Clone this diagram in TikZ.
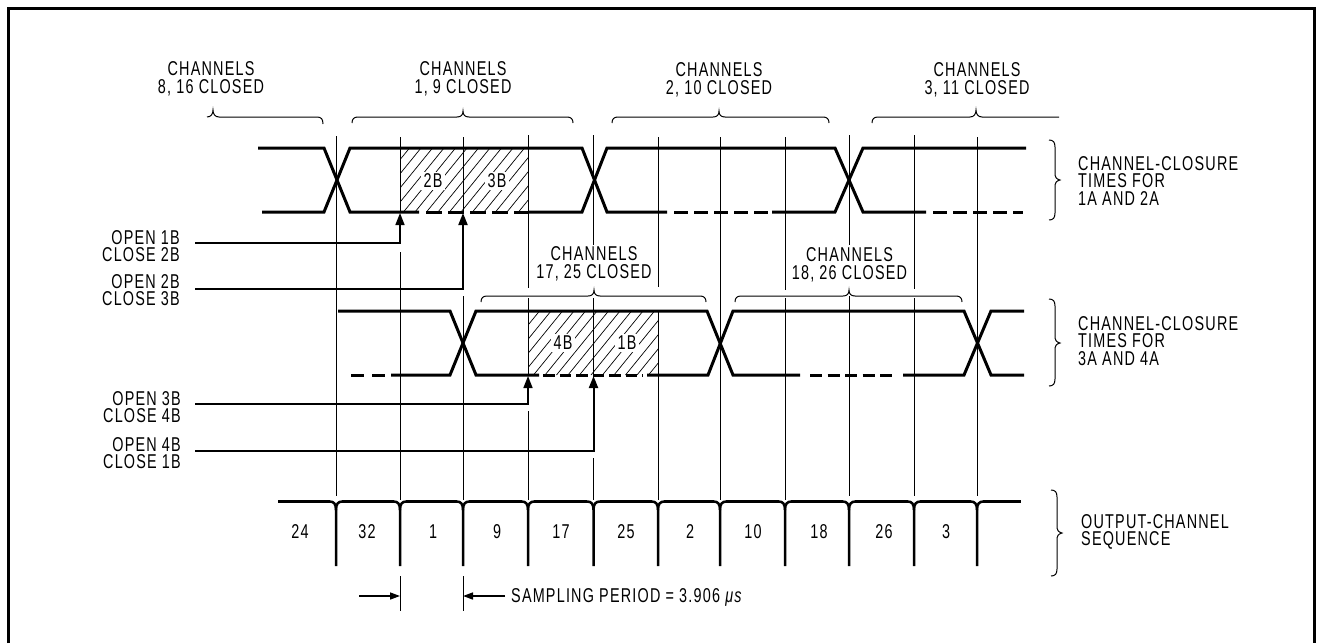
\documentclass[tikz,border=0pt]{standalone}
\usepackage{fontspec}
\usetikzlibrary{arrows.meta}
\newfontfamily\lblfont[FakeStretch=0.72,LetterSpace=6]{Liberation Sans}
\newcommand{\topbr}[4]{\draw[bracel] (#1,#4+6) .. controls (#1,#4+2) and (#1+2,#4) .. (#1+6,#4) -- (#2-6,#4) .. controls (#2-2,#4) and (#2,#4-2) .. (#2,#4-6) .. controls (#2,#4-2) and (#2+2,#4) .. (#2+6,#4) -- (#3-6,#4) .. controls (#3-2,#4) and (#3,#4+2) .. (#3,#4+6);}
\newcommand{\sidebr}[4]{\draw[bracel] (#1-6,#2) .. controls (#1-2,#2) and (#1,#2+2) .. (#1,#2+7) -- (#1,#3-7) .. controls (#1,#3-3) and (#1+1,#3-1) .. (#1+5,#3) .. controls (#1+1,#3+1) and (#1,#3+3) .. (#1,#3+7) -- (#1,#4-7) .. controls (#1,#4-2) and (#1-2,#4) .. (#1-6,#4);}
\tikzset{
  x=1pt,y=-1pt,
  sigl/.style={line width=3pt,line cap=butt},
  thinl/.style={line width=1pt},
  ticks/.style={line width=2.5pt},
  bracel/.style={line width=1pt},
  frameline/.style={line width=3pt,line join=miter},
  lead/.style={line width=1.5pt},
  hatchl/.style={line width=.7pt},
  txt/.style={font=\lblfont\fontsize{20}{17.5}\selectfont,inner sep=0pt,align=center},
  txtl/.style={txt,align=left,anchor=west},
  txtr/.style={txt,align=right,anchor=east},
  arr/.style={lead,-{Triangle[length=12pt,width=9pt]}},
  arrs/.style={lead,-{Triangle[length=10pt,width=7pt]}},
}
\begin{document}
\begin{tikzpicture}
\useasboundingbox (0,0) rectangle (1319,643);
\fill[white] (0,0) rectangle (1319,643);
\draw[frameline] (8,643) -- (8,8) -- (1314,8) -- (1314,643);
% hatching
\begin{scope}
\clip (400,148) rectangle (528,212);
\foreach \x in {300,311.5,...,540} \draw[hatchl] (\x,212) -- (\x+52,148);
\end{scope}
\begin{scope}
\clip (528,311) rectangle (658,375);
\foreach \x in {430,441.5,...,670} \draw[hatchl] (\x,375) -- (\x+52,311);
\end{scope}
\node[txt,fill=white,inner xsep=3pt,inner ysep=2pt] (h2b) at (433,181) {2B};
\node[txt,fill=white,inner xsep=3pt,inner ysep=2pt] (h3b) at (497,181) {3B};
\node[txt,fill=white,inner xsep=3pt,inner ysep=2pt] (h4b) at (563,343) {4B};
\node[txt,fill=white,inner xsep=3pt,inner ysep=2pt] (h1b) at (627,343) {1B};
% vertical time lines
\draw[thinl] (336,136) -- (336,496);
\draw[thinl] (400,137) -- (400,212) (400,252) -- (400,500);
\draw[thinl] (463,137) -- (463,212) (463,296) -- (463,500);
\draw[thinl] (528,135) -- (528,288) (528,298) -- (528,375) (528,411) -- (528,500);
\draw[thinl] (593.5,135) -- (593.5,245) (593.5,298) -- (593.5,376) (593.5,458) -- (593.5,500);
\draw[thinl] (658,137) -- (658,287) (658,310) -- (658,500);
\draw[thinl] (720,137) -- (720,500);
\draw[thinl] (785,137) -- (785,290) (785,298) -- (785,500);
\draw[thinl] (849,135) -- (849,245) (849,296) -- (849,496);
\draw[thinl] (914,135) -- (914,289) (914,298) -- (914,496);
\draw[thinl] (977,137) -- (977,496);
% channel closure, row 1
\draw[sigl] (258,148) -- (324,148) -- (350,212) -- (419,212);
\draw[sigl] (262,212) -- (324,212) -- (350,148) -- (582,148) -- (607,212) -- (667,212);
\draw[sigl] (528,212) -- (582,212) -- (607,148) -- (835,148) -- (863,212) -- (926,212);
\draw[sigl] (772,212) -- (835,212) -- (863,148) -- (1026,148);
\draw[sigl,dash pattern=on 16pt off 6pt] (426,212) -- (528,212);
\draw[sigl,dash pattern=on 14pt off 6pt] (674,212) -- (772,212);
\draw[sigl,dash pattern=on 14pt off 6pt] (933,212) -- (1023,212);
% channel closure, row 2
\draw[sigl] (338,311) -- (450,311) -- (476,375) -- (539,375);
\draw[sigl] (391,375) -- (450,375) -- (476,311) -- (707,311) -- (733,375) -- (800,375);
\draw[sigl] (647,375) -- (708,375) -- (733,311) -- (964,311) -- (991,375) -- (1024,375);
\draw[sigl] (903,375) -- (964,375) -- (991,311) -- (1024,311);
\draw[sigl,dash pattern=on 13pt off 8pt] (351,375) -- (385,375);
\draw[sigl,dash pattern=on 11.5pt off 5pt] (543,375) -- (643,375);
\draw[sigl,dash pattern=on 12pt off 5.5pt] (810,375) -- (893,375);
% output sequence
\draw[ticks] (278,501.5) -- (330,501.5);
\foreach \a/\b in {342/394,406/457,469/522,534/587,600/652,664/714,726/779,791/843,855/908,920/971,983/1021}
  \draw[ticks] (\a,501.5) -- (\b,501.5);
\foreach \x in {336,400,463,528,593.5,658,720,785,849,914,977}{
  \draw[ticks] (\x-6.5,501.5) .. controls (\x-2,501.5) and (\x,504) .. (\x,510) -- (\x,566);
  \draw[ticks] (\x+6.5,501.5) .. controls (\x+2,501.5) and (\x,504) .. (\x,510);
}
% braces
\topbr{352}{463}{573}{117}
\topbr{612}{719}{829}{117}
\topbr{481}{594}{706}{296}
\topbr{735}{849}{962}{296}
\draw[bracel] (207,117) .. controls (211,117) and (213,114) .. (213,110) .. controls (213,114) and (215,117) .. (219,117) -- (317,117) .. controls (321,117) and (323,119) .. (323,124);
\draw[bracel] (872,123) .. controls (872,119) and (874,117) .. (878,117) -- (970,117) .. controls (974,117) and (976,114) .. (976,110) .. controls (976,114) and (978,117) .. (982,117) -- (1059,117);
\sidebr{1055}{140}{180}{220}
\sidebr{1055}{299}{343}{386}
\sidebr{1057}{490}{533}{576}
% top labels
\node[txt] (c8) at (211,79) {CHANNELS\\8, 16 CLOSED};
\node[txt] (c1) at (463,79) {CHANNELS\\1, 9 CLOSED};
\node[txt] (c2) at (719,80) {CHANNELS\\2, 10 CLOSED};
\node[txt] (c3) at (977,80) {CHANNELS\\3, 11 CLOSED};
\node[txt] (c17) at (594,264) {CHANNELS\\17, 25 CLOSED};
\node[txt] (c18) at (849.5,265) {CHANNELS\\18, 26 CLOSED};
% right labels
\node[txtl] (t1) at (1078,181) {CHANNEL-CLOSURE\\TIMES FOR\\1A AND 2A};
\node[txtl] (t2) at (1078,341) {CHANNEL-CLOSURE\\TIMES FOR\\3A AND 4A};
\node[txtl] (t3) at (1081,532) {OUTPUT-CHANNEL\\SEQUENCE};
% left labels and control arrows
\node[txtr] (o1) at (180,246) {OPEN 1B\\CLOSE 2B};
\node[txtr] (o2) at (180,290) {OPEN 2B\\CLOSE 3B};
\node[txtr] (o3) at (181,407) {OPEN 3B\\CLOSE 4B};
\node[txtr] (o4) at (181,453) {OPEN 4B\\CLOSE 1B};
\coordinate (s1) at (195,243); \coordinate (e1) at (400,213);
\coordinate (s2) at (195,289); \coordinate (e2) at (463,213);
\coordinate (s3) at (195,404); \coordinate (e3) at (528,376);
\coordinate (s4) at (195,451); \coordinate (e4) at (593.5,376);
\draw[arr] (s1) -| (e1);
\draw[arr,line width=2pt] (s2) -| (e2);
\draw[arr] (s3) -| (e3);
\draw[arr,line width=2pt] (s4) -| (e4);
% channel numbers
\foreach \x/\n/\m in {300/24/n24,367/32/n32,433/1/n1,497/9/n9,561/17/n17,626/25/n25,690/2/n2,753/10/n10,819/18/n18,884/26/n26,946/3/n3}
  \node[txt] (\m) at (\x,532) {\n};
% sampling period
\draw[thinl] (400,576) -- (400,611);
\draw[thinl] (463,576) -- (463,611);
\coordinate (p1) at (359,596); \coordinate (p2) at (400,596);
\coordinate (p3) at (505,596); \coordinate (p4) at (463,596);
\draw[arrs] (p1) -- (p2);
\draw[arrs] (p3) -- (p4);
\node[txt,anchor=west] (sp) at (511,597) {SAMPLING PERIOD = 3.906 {\itshape μs}};
\end{tikzpicture}
\end{document}
